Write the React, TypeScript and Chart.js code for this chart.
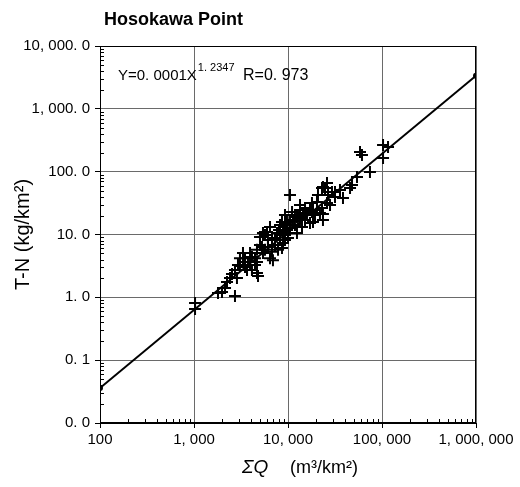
import React, { useEffect, useRef } from 'react';
import { Chart, registerables } from 'chart.js';

Chart.register(...registerables);

const chartTitle = 'Hosokawa Point';
const yAxisTitle = 'T-N (kg/km²)';
const xAxisTitleSymbol = 'ΣQ';
const xAxisTitleUnit = '(m³/km²)';
const equationMain = 'Y=0. 0001X';
const equationExp = '1. 2347';
const equationR = 'R=0. 973';

const xTickValues = [100, 1000, 10000, 100000, 1000000];
const xTickLabels = ['100', '1, 000', '10, 000', '100, 000', '1, 000, 000'];
const yTickValues = [0.01, 0.1, 1, 10, 100, 1000, 10000];
const yTickLabels = ['0. 0', '0. 1', '1. 0', '10. 0', '100. 0', '1, 000. 0', '10, 000. 0'];

const sumQ = [
  1026, 1026, 1800, 1986, 2729, 2244, 2416, 2729, 2536, 3083,
  3083, 3320, 3320, 3488, 3750, 3945, 4137, 4677, 4677, 4677,
  4797, 5035, 5035, 5285, 5418, 5418, 5689, 5978, 6436, 6436,
  6757, 6918, 7275, 7638, 7833, 8222, 8630, 8630, 8850, 9290,
  9290, 9290, 9290, 9750, 10000, 10500, 10500, 11300, 11860, 12460,
  12460, 12770, 13420, 14090, 14450, 15170, 17140, 17990, 17990, 18450,
  18450, 19370, 20340, 21880, 23000, 23000, 23550, 23550, 23550, 24750,
  26000, 26000, 27990, 29380, 31620, 31620, 35730, 38460, 45700, 47970,
  54200, 58340, 61240, 74470, 102600, 115900, 102600, 2138, 2864, 3664,
  3945, 4456, 6120, 7275, 8017, 10500, 11040, 13420, 15920, 20840,
  26660, 5689, 6120, 6757, 8222, 8850, 9750, 11040, 11860, 13420,
  15170, 17140, 4456, 4137, 3488, 2937,
];
const totalN = [
  0.81, 0.65, 1.17, 1.22, 1.05, 1.75, 2.03, 2.72, 2.35, 4.2,
  3.15, 3.65, 5.07, 3.04, 3.65, 5.07, 4.4, 5.7, 3.65, 2.44,
  2.18, 6.8, 9.1, 6.3, 5.07, 10.6, 9.8, 11.0, 13.2, 4.2,
  8.2, 3.9, 6.8, 10.6, 5.7, 14.2, 15.8, 6.1, 7.3, 8.2,
  20.4, 15.2, 9.8, 11.8, 8.8, 42.5, 17, 16.4, 14.2, 19.0,
  10.6, 19.7, 24.5, 13.2, 22, 17, 15.2, 31.7, 22.8, 24.5,
  15.8, 20.4, 32.9, 22, 55, 26.4, 57, 21.2, 17, 55,
  66, 31.7, 29.5, 47.5, 47.5, 39.5, 51.1, 38.1, 55, 61.4,
  82.3, 205, 184, 98.8, 265, 247, 165, 1.41, 2.03, 2.72,
  3.27, 4.2, 8.2, 8.8, 11.8, 12.7, 22.8, 18.3, 20.4, 42.5,
  42.5, 5.7, 6.3, 5.3, 8.2, 11.0, 15.8, 14.2, 20.4, 29.5,
  26.4, 24.5, 3.27, 2.72, 4.2, 3.27,
];
const fitX = [100, 1000000];
const fitY = [0.036, 3370];

const FONT = '"Liberation Sans", Arial, sans-serif';

const overlayPlugin = {
  id: 'overlay',
  afterDraw(chart: any) {
    const ctx = chart.ctx as CanvasRenderingContext2D;
    const { left, right, top, bottom } = chart.chartArea;
    const xs = chart.scales.x;
    const ys = chart.scales.y;
    ctx.save();
    ctx.strokeStyle = '#000';
    ctx.lineWidth = 1;
    ctx.beginPath();
    for (let i = 0; i < xTickValues.length - 1; i++) {
      for (let k = 2; k <= 9; k++) {
        const px = Math.round(xs.getPixelForValue(xTickValues[i] * k)) + 0.5;
        ctx.moveTo(px, bottom);
        ctx.lineTo(px, bottom - 4);
      }
    }
    for (let i = 0; i < yTickValues.length - 1; i++) {
      for (let k = 2; k <= 9; k++) {
        const py = Math.round(ys.getPixelForValue(yTickValues[i] * k)) + 0.5;
        ctx.moveTo(left, py);
        ctx.lineTo(left + 4, py);
      }
    }
    ctx.stroke();
    ctx.strokeRect(left + 0.5, top + 0.5, right - left - 1, bottom - top - 1);

    ctx.fillStyle = '#000';
    ctx.textBaseline = 'alphabetic';
    ctx.textAlign = 'left';
    ctx.font = `bold 18px ${FONT}`;
    ctx.fillText(chartTitle, 104, 25);

    ctx.font = `15px ${FONT}`;
    ctx.fillText(equationMain, 118, 80);
    const w = ctx.measureText(equationMain).width;
    ctx.font = `11px ${FONT}`;
    ctx.fillText(equationExp, 118 + w + 1, 71);
    ctx.font = `16px ${FONT}`;
    ctx.fillText(equationR, 243, 80);

    ctx.font = `italic 19px ${FONT}`;
    ctx.fillText(xAxisTitleSymbol, 242, 473);
    ctx.font = `18px ${FONT}`;
    ctx.fillText(xAxisTitleUnit, 290, 473);

    ctx.translate(29, (top + bottom) / 2);
    ctx.rotate(-Math.PI / 2);
    ctx.textAlign = 'center';
    ctx.font = `20px ${FONT}`;
    ctx.fillText(yAxisTitle, 0, 0);
    ctx.restore();
  },
};

export default function App() {
  const canvasRef = useRef<HTMLCanvasElement | null>(null);

  useEffect(() => {
    if (!canvasRef.current) return;
    const points = sumQ.map((x, i) => ({ x, y: totalN[i] }));
    const fitLine = fitX.map((x, i) => ({ x, y: fitY[i] }));
    const tickFont = { family: FONT, size: 15 };
    const chart = new Chart(canvasRef.current, {
      type: 'scatter',
      data: {
        datasets: [
          {
            label: 'data',
            data: points,
            pointStyle: 'cross',
            pointRadius: 6,
            borderColor: '#000',
            backgroundColor: '#000',
            borderWidth: 2,
          },
          {
            label: 'fit',
            data: fitLine,
            showLine: true,
            borderColor: '#000',
            backgroundColor: '#000',
            borderWidth: 2,
            pointRadius: 2,
          } as any,
        ],
      },
      options: {
        animation: false,
        responsive: false,
        layout: { padding: { top: 46, right: 44, left: 0, bottom: 0 } },
        plugins: { legend: { display: false }, title: { display: false }, tooltip: { enabled: false } },
        scales: {
          x: {
            type: 'logarithmic',
            min: 100,
            max: 1000000,
            afterBuildTicks: (scale: any) => {
              scale.ticks = xTickValues.map((v) => ({ value: v, major: true }));
            },
            afterFit: (scale: any) => {
              scale.height = 64;
            },
            ticks: {
              autoSkip: false,
              maxRotation: 0,
              color: '#000',
              font: tickFont,
              padding: 3,
              callback: (v: any) => {
                const i = xTickValues.indexOf(Number(v));
                return i >= 0 ? xTickLabels[i] : '';
              },
            },
            grid: { color: '#6a6a6a', tickColor: '#000', tickLength: 5, lineWidth: 1 },
            border: { color: '#000' },
          },
          y: {
            type: 'logarithmic',
            min: 0.01,
            max: 10000,
            afterBuildTicks: (scale: any) => {
              scale.ticks = yTickValues.map((v) => ({ value: v, major: true }));
            },
            afterFit: (scale: any) => {
              scale.width = 100;
            },
            ticks: {
              autoSkip: false,
              color: '#000',
              font: tickFont,
              padding: 5,
              callback: (v: any) => {
                const i = yTickValues.findIndex((t) => Math.abs(t - Number(v)) / t < 1e-6);
                return i >= 0 ? yTickLabels[i] : '';
              },
            },
            grid: { color: '#6a6a6a', tickColor: '#000', tickLength: 5, lineWidth: 1 },
            border: { color: '#000' },
          },
        },
      },
      plugins: [overlayPlugin],
    });
    return () => chart.destroy();
  }, []);

  return (
    <div style={{ position: 'fixed', left: 0, top: 0, width: 520, height: 487, background: '#fff' }}>
      <canvas ref={canvasRef} width={520} height={487} />
    </div>
  );
}
